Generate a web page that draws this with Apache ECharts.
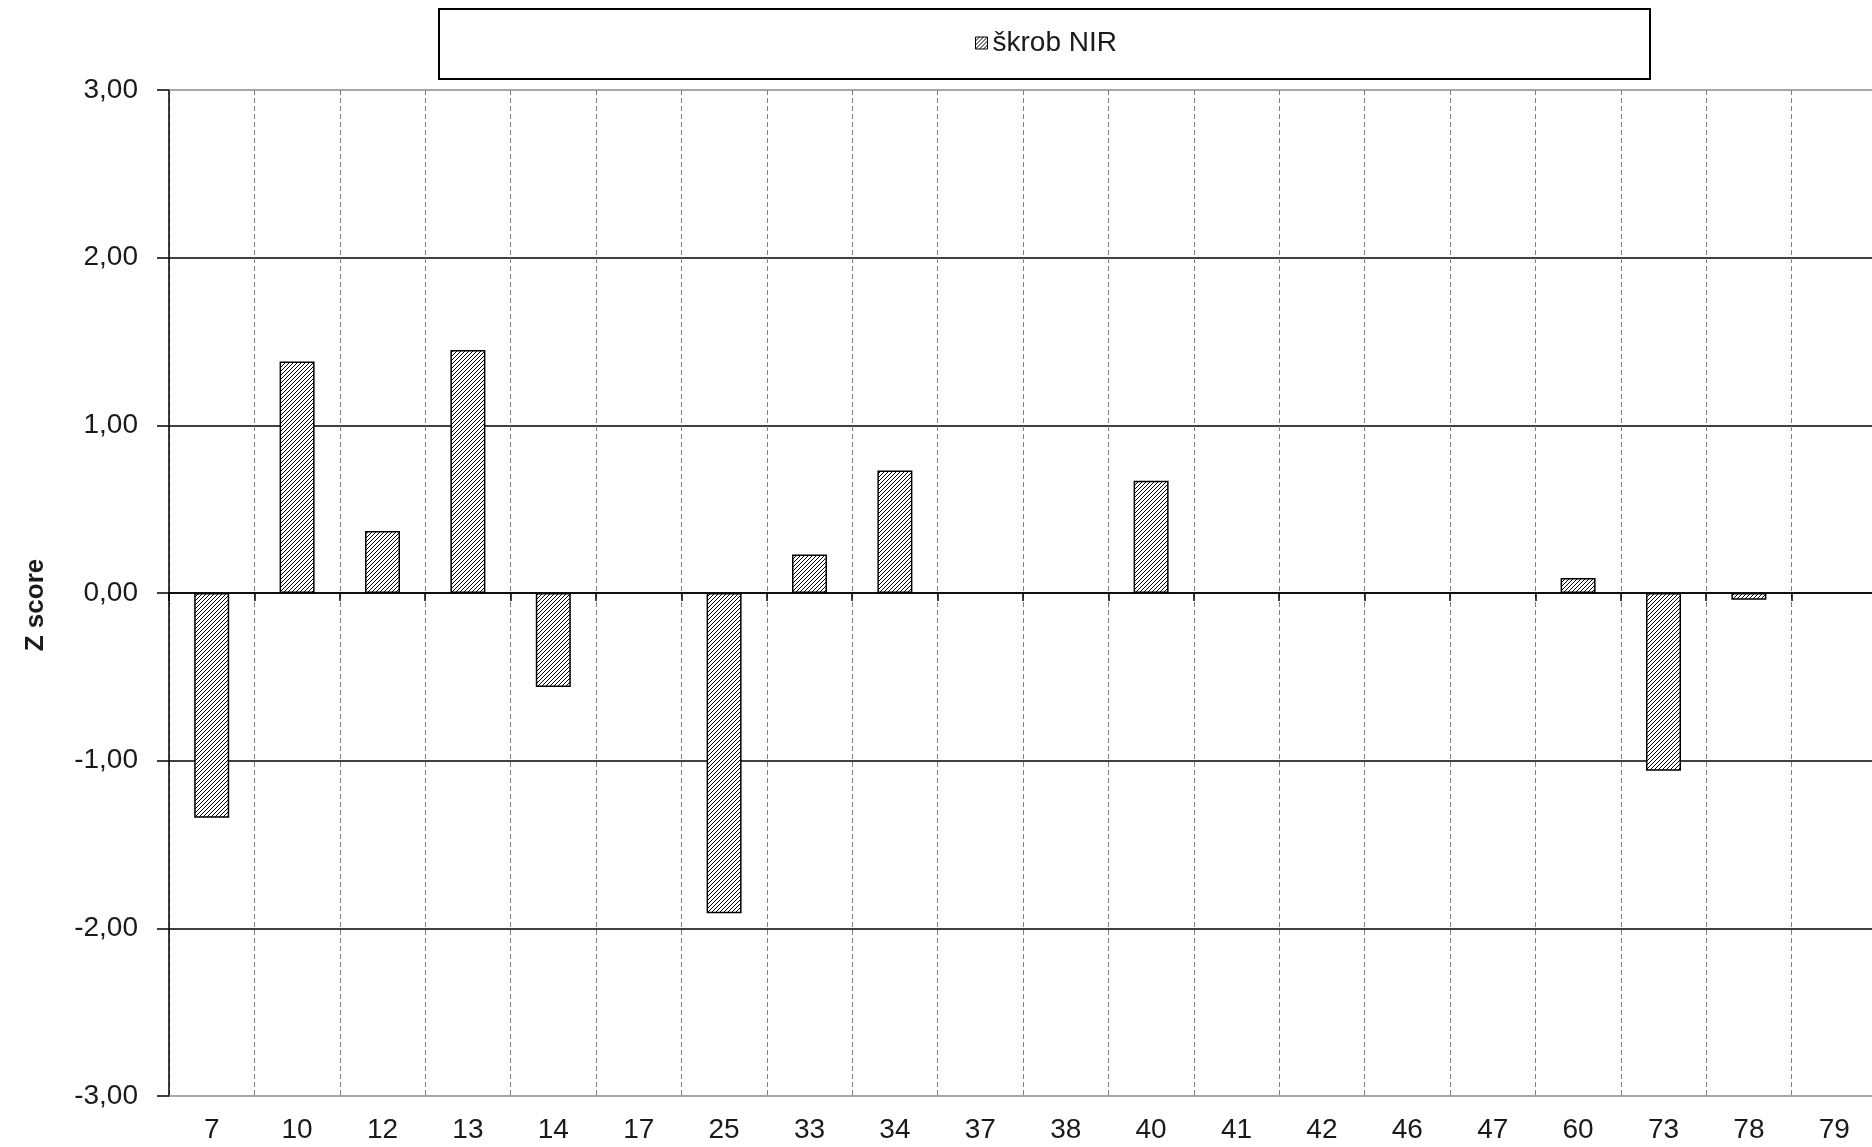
<!DOCTYPE html>
<html>
<head>
<meta charset="utf-8">
<script src="https://cdn.jsdelivr.net/npm/echarts@6/dist/echarts.min.js"></script>
<style>
html,body{margin:0;padding:0;background:#fff;}
#chart{width:1872px;height:1147px;}
</style>
</head>
<body>
<div id="chart"></div>
<script>
// ---- data ----
const categories = ['7','10','12','13','14','17','25','33','34','37','38','40','41','42','46','47','60','73','78','79'];
const seriesName = 'škrob NIR';
const zScores = [-1.34, 1.38, 0.37, 1.45, -0.56, null, -1.91, 0.23, 0.73, null, null, 0.67, null, null, null, null, 0.09, -1.06, -0.04, null];
const yTicks = [-3, -2, -1, 0, 1, 2, 3];
const yAxisTitle = 'Z score';

// ---- hatch pattern ----
function makeHatch() {
  const s = 4;
  const c = document.createElement('canvas');
  c.width = s; c.height = s;
  const g = c.getContext('2d');
  g.fillStyle = '#ffffff';
  g.fillRect(0, 0, s, s);
  g.strokeStyle = '#000000';
  g.lineWidth = 1;
  g.beginPath();
  g.moveTo(0, s); g.lineTo(s, 0);
  g.moveTo(-1, 1); g.lineTo(1, -1);
  g.moveTo(s - 1, s + 1); g.lineTo(s + 1, s - 1);
  g.stroke();
  return c;
}
const hatch = { image: makeHatch(), repeat: 'repeat' };

const FONT = "'Liberation Sans', Arial, sans-serif";
const chart = echarts.init(document.getElementById('chart'), null, { renderer: 'canvas' });

chart.setOption({
  animation: false,
  backgroundColor: '#ffffff',
  textStyle: { fontFamily: FONT },
  graphic: [{
    type: 'rect',
    left: 438, top: 8,
    shape: { width: 1211, height: 70 },
    style: { fill: '#ffffff', stroke: '#000000', lineWidth: 2 },
    z: -1
  }],
  legend: {
    data: [seriesName],
    left: 975,
    top: 29,
    padding: 0,
    icon: 'rect',
    itemWidth: 12,
    itemHeight: 12,
    itemStyle: { borderColor: '#000', borderWidth: 1 },
    textStyle: { fontFamily: FONT, fontSize: 28, color: '#1a1a1a' }
  },
  grid: {
    left: 169, top: 90, width: 1708, height: 1006,
    containLabel: false,
    outerBoundsMode: 'none'
  },
  xAxis: [
    {
      type: 'category',
      data: categories,
      position: 'bottom',
      boundaryGap: true,
      axisLine: { show: true, onZero: false, lineStyle: { color: '#8a8a8a', width: 1.5 } },
      axisTick: { show: false },
      axisLabel: {
        interval: 0, margin: 20,
        fontFamily: FONT, fontSize: 28, color: '#1a1a1a'
      },
      splitLine: {
        show: true, interval: 0,
        lineStyle: { color: '#7f7f7f', width: 1, type: [5, 3] }
      }
    },
    {
      type: 'category',
      data: categories,
      position: 'bottom',
      boundaryGap: true,
      axisLine: { show: true, onZero: true, lineStyle: { color: '#000', width: 1.5 } },
      axisTick: { show: true, interval: 0, length: 8, lineStyle: { color: '#000', width: 1.5 } },
      axisLabel: { show: false },
      splitLine: { show: false }
    },
    {
      type: 'category',
      data: categories,
      position: 'top',
      boundaryGap: true,
      axisLine: { show: true, onZero: false, lineStyle: { color: '#8a8a8a', width: 1.5 } },
      axisTick: { show: false },
      axisLabel: { show: false },
      splitLine: { show: false }
    }
  ],
  yAxis: {
    type: 'value',
    min: yTicks[0],
    max: yTicks[yTicks.length - 1],
    interval: 1,
    name: yAxisTitle,
    nameLocation: 'middle',
    nameRotate: 90,
    nameGap: 120,
    nameTextStyle: {
      fontFamily: FONT, fontSize: 26, fontWeight: 'bold', color: '#1a1a1a',
      padding: [0, 24, 0, 0]
    },
    axisLine: { show: true, lineStyle: { color: '#000', width: 1.5 } },
    axisTick: { show: true, inside: false, length: 12, lineStyle: { color: '#000', width: 1.5 } },
    axisLabel: {
      margin: 31,
      fontFamily: FONT, fontSize: 28, color: '#1a1a1a',
      formatter: v => v.toFixed(2).replace('.', ',')
    },
    splitLine: {
      show: true, showMinLine: false, showMaxLine: false,
      lineStyle: { color: '#000', width: 1.5 }
    }
  },
  series: [{
    name: seriesName,
    type: 'bar',
    xAxisIndex: 0,
    data: zScores,
    barWidth: 35,
    itemStyle: { color: hatch, borderColor: '#000', borderWidth: 1.5 }
  }]
});
</script>
</body>
</html>
